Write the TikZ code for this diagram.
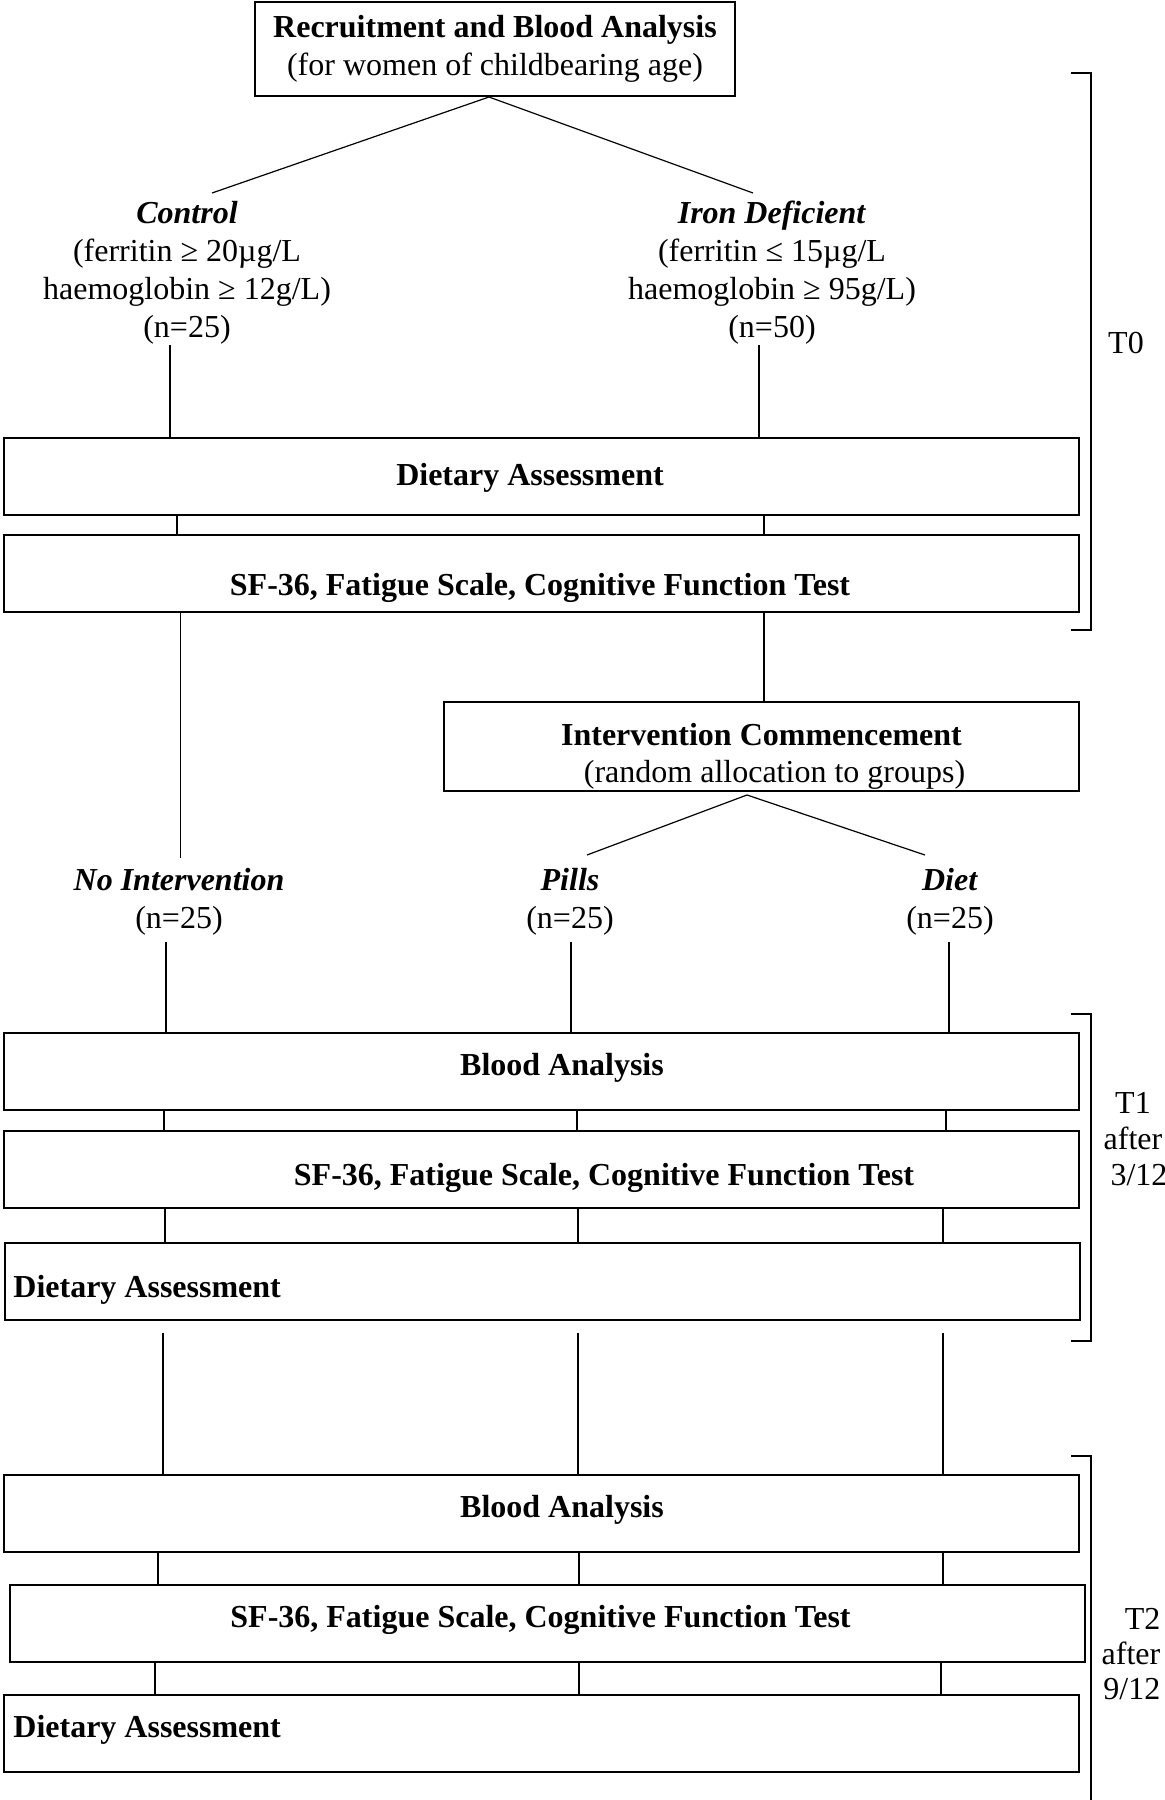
\documentclass[tikz,border=0pt]{standalone}
\usepackage{fontspec}
\setmainfont{Liberation Serif}
\usetikzlibrary{calc}
\newcommand{\chartfont}{\fontsize{16}{19}\selectfont}
\tikzset{
  stagebox/.style={draw, line width=1pt, minimum width=537.5pt, minimum height=38.5pt, inner sep=0pt},
  stagetext/.style={inner sep=0pt, yshift=-1.5pt, font=\chartfont\bfseries},
  grouptext/.style={inner sep=0pt, yshift=-1.5pt, align=center, font=\chartfont},
  link/.style={line width=0.6pt},
}

\begin{document}
\begin{tikzpicture}[x=0.5pt, y=-0.5pt]
          \useasboundingbox (0,0) rectangle (1165,1800);
          \node[draw, line width=1pt, minimum width=240pt, minimum height=47pt, inner sep=0pt, align=center, font=\chartfont] (recruit) at (495,49) {\textbf{Recruitment and Blood Analysis}\\(for women of childbearing age)};
          \coordinate (split0) at (489,97);
          \coordinate (ctrltop) at (212,193);
          \coordinate (irontop) at (753,193);
          \draw[link] (ctrltop) -- (split0) -- (irontop);
          \node[grouptext] (control) at (187,270) {\textbf{\textit{Control}}\\(ferritin ≥ 20µg/L\\haemoglobin ≥ 12g/L)\\(n=25)};
          \node[grouptext] (irondef) at (772,270) {\textbf{\textit{Iron Deficient}}\\(ferritin ≤ 15µg/L\\haemoglobin ≥ 95g/L)\\(n=50)};

          \node[stagebox] (diet0) at (541.5,476) {};
          \node[stagetext] (diet0txt) at (530,475) {Dietary Assessment};
          \node[stagebox] (sf0) at (541.5,573.5) {};
          \node[stagetext] (sf0txt) at (540,585) {SF-36, Fatigue Scale, Cognitive Function Test};
          \draw[link] (170,0 |- control.south) -- (170,0 |- diet0.north);
          \draw[link] (759,0 |- irondef.south) -- (759,0 |- diet0.north);
          \draw[link] (177,0 |- diet0.south) -- (177,0 |- sf0.north);
          \draw[link] (764,0 |- diet0.south) -- (764,0 |- sf0.north);

          \node[draw, line width=1pt, minimum width=317.5pt, minimum height=44.5pt, inner sep=0pt] (intervene) at (761.5,746) {};
          \node[grouptext, yshift=-3.5pt, font=\fontsize{16}{18.5}\selectfont] (intervenetxt) at (intervene.center) {\textbf{Intervention Commencement}\\\hspace*{13pt}(random allocation to groups)};
          \draw[link] (764,0 |- sf0.south) -- (764,0 |- intervene.north);
          \coordinate (split1) at (747,795);
          \coordinate (pillstop) at (587,855);
          \coordinate (diettop) at (925,855);
          \draw[link] (pillstop) -- (split1) -- (diettop);

          \node[grouptext] (noint) at (179,899) {\textbf{\textit{No Intervention}}\\(n=25)};
          \node[grouptext] (pills) at (570,899) {\textbf{\textit{Pills}}\\(n=25)};
          \node[grouptext] (diet) at (950,899) {\textbf{\textit{Diet}}\\(n=25)};
          \draw[link, shorten >=5pt] (180.5,0 |- sf0.south) -- (180.5,0 |- noint.north);

          \node[stagebox] (blood1) at (541.5,1071) {};
          \node[stagetext] (blood1txt) at (562,1065) {Blood Analysis};
          \node[stagebox] (sf1) at (541.5,1169) {};
          \node[stagetext] (sf1txt) at (604,1175) {SF-36, Fatigue Scale, Cognitive Function Test};
          \node[stagebox] (diet1) at (542.5,1281) {};
          \node[stagetext, anchor=west] (diet1txt) at (13,1287) {Dietary Assessment};
          \draw[link, shorten <=3pt] (166,0 |- noint.south) -- (166,0 |- blood1.north);
          \draw[link, shorten <=3pt] (571,0 |- pills.south) -- (571,0 |- blood1.north);
          \draw[link, shorten <=3pt] (949,0 |- diet.south) -- (949,0 |- blood1.north);
          \foreach \cx in {164,577,946}
            \draw[link] (\cx,0 |- blood1.south) -- (\cx,0 |- sf1.north);
          \foreach \cx in {165,578,943}
            \draw[link] (\cx,0 |- sf1.south) -- (\cx,0 |- diet1.north);

          \node[stagebox] (blood2) at (541.5,1513) {};
          \node[stagetext] (blood2txt) at (562,1507) {Blood Analysis};
          \node[stagebox] (sf2) at (547,1623.5) {};
          \node[stagetext] (sf2txt) at (540.5,1617) {SF-36, Fatigue Scale, Cognitive Function Test};
          \node[stagebox] (diet2) at (541.5,1733.5) {};
          \node[stagetext, anchor=west] (diet2txt) at (13,1727) {Dietary Assessment};
          \foreach \cx in {163,578,943}
            \draw[link, shorten <=6pt] (\cx,0 |- diet1.south) -- (\cx,0 |- blood2.north);
          \foreach \cx in {158,579,943}
            \draw[link] (\cx,0 |- blood2.south) -- (\cx,0 |- sf2.north);
          \foreach \cx in {155,579,941}
            \draw[link] (\cx,0 |- sf2.south) -- (\cx,0 |- diet2.north);

          \draw[line width=1pt] (1071,73) -- (1091,73) -- (1091,630) -- (1071,630);
          \draw[line width=1pt] (1071,1014) -- (1091,1014) -- (1091,1341) -- (1071,1341);
          \draw[line width=1pt] (1071,1456) -- (1091,1456) -- (1091,1800);
          \node[grouptext] (tzero) at (1126,340) {T0};
          \node[grouptext, font=\fontsize{16}{18}\selectfont] (tone) at (1133,1136) {T1\\after\\\hspace*{6pt}3/12};
          \node[grouptext, align=right, font=\fontsize{16}{17.5}\selectfont] (ttwo) at (1131,1651) {T2\\after\\9/12};
\end{tikzpicture}
\end{document}
